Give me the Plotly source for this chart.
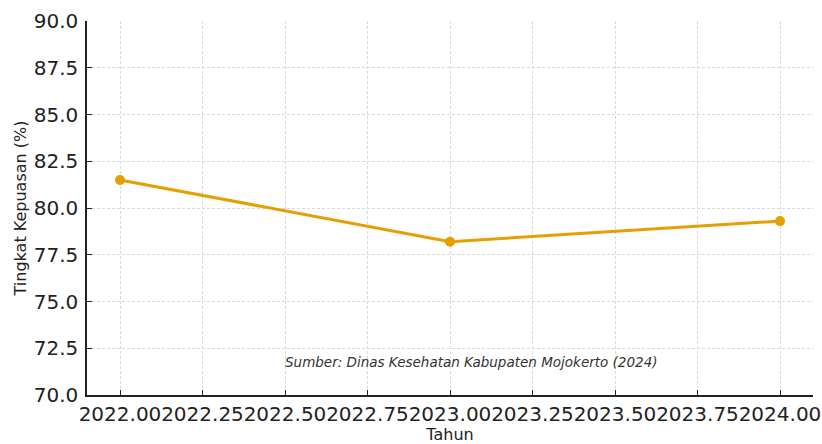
import plotly.graph_objects as go

years = [2022, 2023, 2024]
satisfaction = [81.5, 78.2, 79.3]
x_ticks = [2022.0, 2022.25, 2022.5, 2022.75, 2023.0, 2023.25, 2023.5, 2023.75, 2024.0]
y_ticks = [70.0, 72.5, 75.0, 77.5, 80.0, 82.5, 85.0, 87.5, 90.0]
source_text = "Sumber: Dinas Kesehatan Kabupaten Mojokerto (2024)"

fig = go.Figure()
fig.add_trace(go.Scatter(
    x=years, y=satisfaction, mode="lines+markers",
    line=dict(color="#E69F00", width=3),
    marker=dict(color="#E69F00", size=10),
    showlegend=False, cliponaxis=False,
))

font_family = "DejaVu Sans"
fig.update_layout(
    width=822, height=444,
    margin=dict(l=87, r=9, t=21, b=49),
    paper_bgcolor="white", plot_bgcolor="white",
    font=dict(family=font_family, color="#222222"),
)
grid = dict(showgrid=True, gridcolor="#d9d9d9", griddash="3px,2px", gridwidth=0.8, zeroline=False)
fig.update_xaxes(
    range=[2021.9, 2024.1],
    tickvals=x_ticks, ticktext=[f"{v:.2f}" for v in x_ticks],
    tickangle=0, automargin=False,
    tickfont=dict(size=20, color="#222222"),
    ticks="inside", ticklen=5, tickcolor="#222222", tickwidth=1,
    showline=True, linecolor="#222222", linewidth=1.5,
    title=dict(text="Tahun", font=dict(size=16, color="#222222"), standoff=2),
    **grid,
)
fig.update_yaxes(
    range=[70, 90],
    tickvals=y_ticks, ticktext=[f"{v:.1f}" for v in y_ticks],
    automargin=False, ticklabelstandoff=3,
    tickfont=dict(size=20, color="#222222"),
    ticks="inside", ticklen=5, tickcolor="#222222", tickwidth=1,
    showline=True, linecolor="#222222", linewidth=1.5,
    title=dict(text="Tingkat Kepuasan (%)", font=dict(size=16, color="#222222"), standoff=3),
    **grid,
)
fig.add_annotation(
    text=f"<i>{source_text}</i>", xref="paper", yref="paper",
    x=0.529, y=0.088, xanchor="center", yanchor="middle", showarrow=False,
    font=dict(size=13.5, color="#333333", family=font_family),
)
fig.write_html(
    "out.html",
    config={"displayModeBar": False},
    post_script="document.body.style.margin='0';document.documentElement.style.overflow='hidden';",
)
